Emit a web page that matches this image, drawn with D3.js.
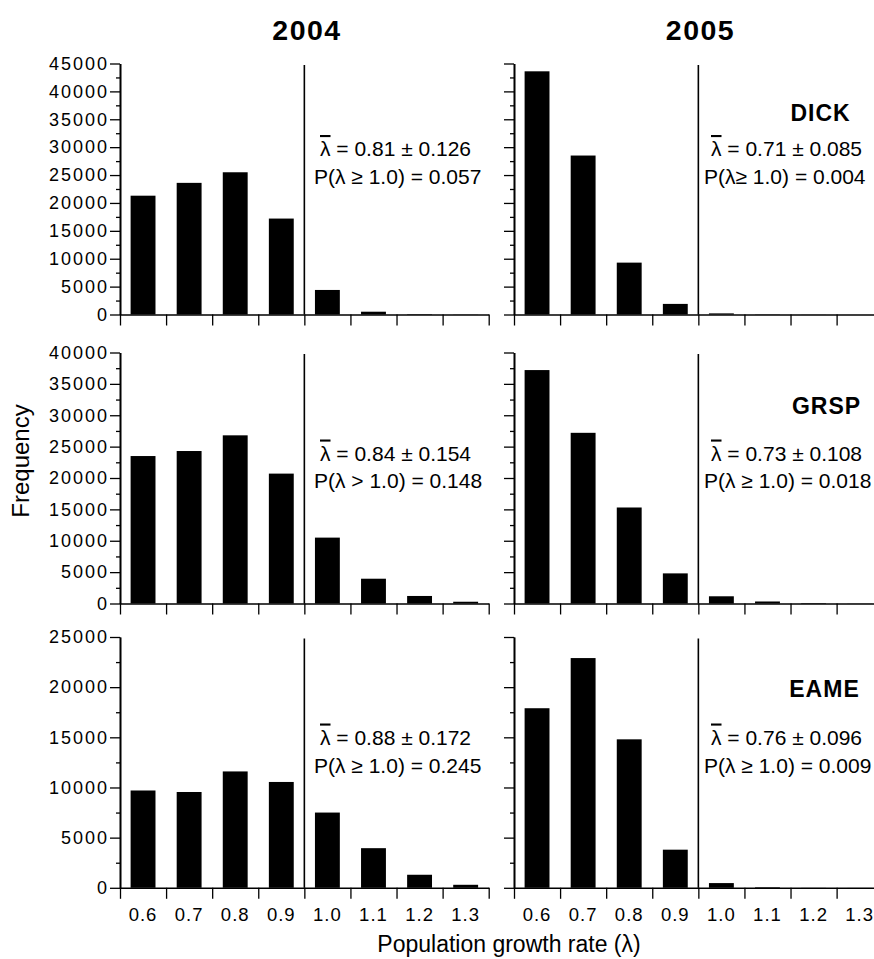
<!DOCTYPE html>
<html>
<head>
<meta charset="utf-8">
<script src="https://cdn.jsdelivr.net/npm/d3@7/dist/d3.min.js"></script>
<style>
  html, body { margin: 0; padding: 0; background: #fff; }
  svg { display: block; }
  text { font-family: "Liberation Sans", Arial, Helvetica, sans-serif; fill: #000; }
</style>
</head>
<body>
<svg id="chart" width="874" height="959"></svg>
<script>
// ---------- data ----------
const binLabels = ["0.6", "0.7", "0.8", "0.9", "1.0", "1.1", "1.2", "1.3"];
const binCenters = [0.6, 0.7, 0.8, 0.9, 1.0, 1.1, 1.2, 1.3];
const binEdges = [0.55, 0.65, 0.75, 0.85, 0.95, 1.05, 1.15, 1.25, 1.35];
const years = ["2004", "2005"];
const species = ["DICK", "GRSP", "EAME"];

const dick2004 = [21300, 23600, 25500, 17200, 4400, 500, 80, 30];
const dick2005 = [43600, 28500, 9300, 1900, 200, 40, 15, 5];
const grsp2004 = [23500, 24300, 26800, 20700, 10500, 3950, 1200, 280];
const grsp2005 = [37200, 27200, 15300, 4800, 1150, 320, 80, 20];
const eame2004 = [9700, 9550, 11600, 10550, 7500, 3950, 1300, 300];
const eame2005 = [17900, 22900, 14800, 3800, 470, 60, 10, 5];

const yMax = [45000, 40000, 25000];
const yMajorStep = 5000;
const yMinorStep = 2500;

const meanText2004 = ["0.81 ± 0.126", "0.84 ± 0.154", "0.88 ± 0.172"];
const probText2004 = ["P(λ ≥ 1.0) = 0.057", "P(λ > 1.0) = 0.148", "P(λ ≥ 1.0) = 0.245"];
const meanText2005 = ["0.71 ± 0.085", "0.73 ± 0.108", "0.76 ± 0.096"];
const probText2005 = ["P(λ≥ 1.0) = 0.004", "P(λ ≥ 1.0) = 0.018", "P(λ ≥ 1.0) = 0.009"];

const seriesByRow = [[dick2004, dick2005], [grsp2004, grsp2005], [eame2004, eame2005]];
const meanByCol = [meanText2004, meanText2005];
const probByCol = [probText2004, probText2005];

// ---------- layout ----------
const colX = [120, 514];
const panelW = 368.7;
const rowTop = [63.5, 352.5, 637];
const rowBottom = [314.5, 603.5, 887.8];
const statX = [[320, 314], [711, 704]];
const statBase = [[156, 184], [460.5, 488], [744.5, 773]];
const speciesPos = [[820.5, 120.5], [826.5, 414], [824.5, 697]];

const svg = d3.select("#chart");

for (let r = 0; r < 3; r++) {
  for (let c = 0; c < 2; c++) {
    const data = seriesByRow[r][c];
    const x = d3.scaleLinear().domain([binEdges[0], binEdges[binEdges.length - 1]])
      .range([colX[c], colX[c] + panelW]);
    const y = d3.scaleLinear().domain([0, yMax[r]]).range([rowBottom[r], rowTop[r]]);
    const g = svg.append("g");

    // bars
    const halfW = 0.027;
    g.selectAll("rect.bar").data(data).enter().append("rect")
      .attr("class", "bar")
      .attr("x", (d, i) => x(binCenters[i] - halfW))
      .attr("width", (d, i) => x(binCenters[i] + halfW) - x(binCenters[i] - halfW))
      .attr("y", d => y(d))
      .attr("height", d => y(0) - y(d))
      .attr("fill", "#000");

    // y axis
    const minorVals = d3.range(0, yMax[r] + 1, yMinorStep).filter(v => v % yMajorStep !== 0);
    const majorVals = d3.range(0, yMax[r] + 1, yMajorStep);
    const yMinor = g.append("g").attr("transform", `translate(${colX[c]},0)`)
      .call(d3.axisLeft(y).tickValues(minorVals).tickSize(4).tickSizeOuter(0).tickFormat(""));
    const yMajor = g.append("g").attr("transform", `translate(${colX[c]},0)`)
      .call(d3.axisLeft(y).tickValues(majorVals).tickSize(10).tickSizeOuter(0).tickPadding(3)
        .tickFormat(c === 0 ? d3.format("d") : ""));
    [yMinor, yMajor].forEach(ax => {
      ax.selectAll("path.domain").attr("stroke", "#000").attr("stroke-width", 1.6);
      ax.selectAll(".tick line").attr("stroke", "#000").attr("stroke-width", 1.3);
    });
    yMajor.selectAll(".tick text")
      .style("font-size", "18px").style("letter-spacing", "2px")
      .attr("dx", "2px")
      .style("font-family", '"Liberation Sans", Arial, sans-serif')
      .attr("fill", "#000");

    // x axis
    const xAx = g.append("g").attr("transform", `translate(0,${rowBottom[r]})`)
      .call(d3.axisBottom(x).tickValues(binEdges).tickSize(11).tickSizeOuter(0).tickFormat(""));
    xAx.selectAll("path.domain").attr("stroke", "#000").attr("stroke-width", 1.6);
    xAx.selectAll(".tick line").attr("stroke", "#000").attr("stroke-width", 1.3);

    // bottom tick labels
    if (r === 2) {
      g.selectAll("text.xl").data(binLabels).enter().append("text")
        .attr("class", "xl")
        .attr("x", (d, i) => x(binCenters[i]))
        .attr("y", 920.7)
        .attr("text-anchor", "middle")
        .style("font-size", "18.5px").style("letter-spacing", "1px")
        .text(d => d);
    }

    // vertical reference line at lambda = 1 bin boundary
    g.append("line")
      .attr("x1", x(binEdges[4])).attr("x2", x(binEdges[4]))
      .attr("y1", rowTop[r] + 1.5).attr("y2", rowBottom[r])
      .attr("stroke", "#000").attr("stroke-width", 1.6);

    // stats text
    const t1 = g.append("text").attr("x", statX[c][0]).attr("y", statBase[r][0])
      .style("font-size", "21px");
    t1.append("tspan").style("text-decoration", "overline").text("λ");
    t1.append("tspan").text(" = " + meanByCol[c][r]);
    g.append("text").attr("x", statX[c][1]).attr("y", statBase[r][1])
      .style("font-size", "21px")
      .text(probByCol[c][r]);

    if (c === 1) {
      g.append("text").attr("x", speciesPos[r][0]).attr("y", speciesPos[r][1])
        .attr("text-anchor", "middle")
        .style("font-size", "23px").style("font-weight", "bold").style("letter-spacing", "1px")
        .text(species[r]);
    }
  }
}

// column titles
svg.selectAll("text.year").data(years).enter().append("text")
  .attr("class", "year")
  .attr("x", (d, i) => [307, 700.5][i])
  .attr("y", 39.5)
  .attr("text-anchor", "middle")
  .style("font-size", "28.5px").style("font-weight", "bold").style("letter-spacing", "1.5px")
  .text(d => d);

// axis titles
svg.append("text")
  .attr("transform", "translate(28.5,461) rotate(-90)")
  .attr("text-anchor", "middle")
  .style("font-size", "24px")
  .text("Frequency");

svg.append("text")
  .attr("x", 509).attr("y", 951.5)
  .attr("text-anchor", "middle")
  .style("font-size", "23px")
  .text("Population growth rate (λ)");
</script>
</body>
</html>
